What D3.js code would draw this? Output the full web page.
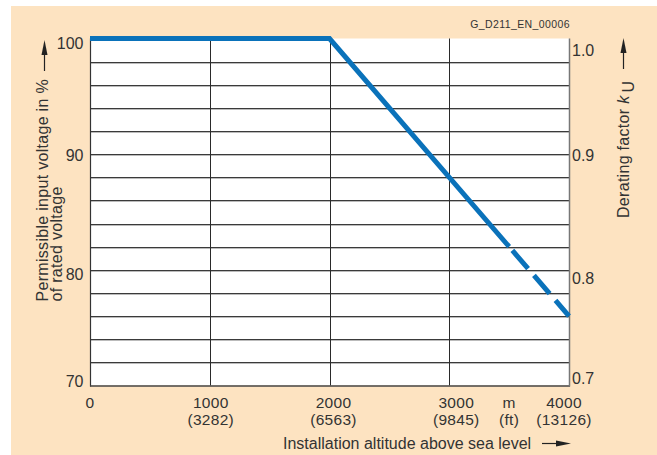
<!DOCTYPE html>
<head>
    <meta charset="utf-8">
    <script src="https://d3js.org/d3.v7.min.js"></script>
    <style>
        body { margin: 0; background: #fff; }
        text { font-family: "Liberation Sans", Arial, sans-serif; fill: #333; }
    </style>
</head>
<body>
    <svg></svg>
    <script>
        // chart values
        var altitudeM = [0, 1000, 2000, 3000, 4000];
        var altitudeFt = ["", "(3282)", "(6563)", "(9845)", "(13126)"];
        var voltageTicks = [100, 90, 80, 70];
        var deratingTicks = [1.0, 0.9, 0.8, 0.7];
        var gridVoltages = [72, 74, 76, 78, 80, 82, 84, 86, 88, 90, 92, 94, 96, 98];
        var gridAltitudes = [1000, 2000, 3000];
        // derating curve, solid part then dashed part
        var solidAltitude = [0, 2000, 3500];
        var solidVoltage = [100, 100, 82];
        var dashedAltitude = [3500, 4000];
        var dashedVoltage = [82, 76];

        var W = 657, H = 455;
        var svg = d3.select("svg").attr("width", W).attr("height", H);

        var x = d3.scaleLinear().domain([0, 4000]).range([90, 569]);
        var y = d3.scaleLinear().domain([70, 100]).range([385.5, 38.5]);

        // peach background
        svg.append("rect")
            .attr("x", 11).attr("y", 6)
            .attr("width", W - 11).attr("height", H - 6)
            .attr("fill", "#fde3c1");

        // plot area
        svg.append("rect")
            .attr("x", x(0)).attr("y", y(100))
            .attr("width", x(4000) - x(0)).attr("height", y(70) - y(100))
            .attr("fill", "#fff");

        // horizontal grid lines (dark line with light shadow)
        var hg = svg.append("g");
        gridVoltages.forEach(function (v) {
            var py = Math.round(y(v)) + 0.5;
            hg.append("line").attr("x1", x(0)).attr("x2", x(4000))
                .attr("y1", py + 1).attr("y2", py + 1)
                .attr("stroke", "#bbb").attr("stroke-width", 1);
            hg.append("line").attr("x1", x(0)).attr("x2", x(4000))
                .attr("y1", py).attr("y2", py)
                .attr("stroke", "#3a3a3a").attr("stroke-width", 1);
        });

        // vertical grid lines
        gridAltitudes.forEach(function (a) {
            var px = Math.round(x(a)) + 0.5;
            svg.append("line").attr("x1", px).attr("x2", px)
                .attr("y1", y(100)).attr("y2", y(70))
                .attr("stroke", "#2a2a2a").attr("stroke-width", 1);
        });

        // frame
        svg.append("line").attr("x1", x(0) + 0.5).attr("x2", x(0) + 0.5)
            .attr("y1", y(100)).attr("y2", y(70) + 1)
            .attr("stroke", "#333").attr("stroke-width", 1.2);
        svg.append("line").attr("x1", x(0)).attr("x2", x(4000) + 1)
            .attr("y1", y(70) + 0.5).attr("y2", y(70) + 0.5)
            .attr("stroke", "#444").attr("stroke-width", 1.5);
        svg.append("line").attr("x1", x(4000) + 0.5).attr("x2", x(4000) + 0.5)
            .attr("y1", y(100)).attr("y2", y(70) + 1)
            .attr("stroke", "#777").attr("stroke-width", 1.5);

        // curve
        var line = d3.line()
            .x(function (d) { return x(d[0]); })
            .y(function (d) { return y(d[1]); });
        svg.append("path")
            .attr("d", line(d3.zip(solidAltitude, solidVoltage)))
            .attr("fill", "none").attr("stroke", "#0a72ba")
            .attr("stroke-width", 5).attr("stroke-linejoin", "miter");
        svg.append("path")
            .attr("d", line(d3.zip(dashedAltitude, dashedVoltage)))
            .attr("fill", "none").attr("stroke", "#0a72ba")
            .attr("stroke-width", 5)
            .attr("stroke-dasharray", "24,9").attr("stroke-dashoffset", 28);

        // left tick labels
        var leftDy = { 100: 10.9, 90: 6.5, 80: 10.4, 70: 1.2 };
        svg.append("g").selectAll("text").data(voltageTicks).enter().append("text")
            .attr("x", 83.5)
            .attr("y", function (d) { return y(d) + leftDy[d]; })
            .attr("text-anchor", "end")
            .style("font-size", "16px")
            .text(function (d) { return d; });

        // right tick labels
        var rightDy = { "1": 17.7, "0.9": 6.5, "0.8": 14.2, "0.7": -1.3 };
        svg.append("g").selectAll("text").data(deratingTicks).enter().append("text")
            .attr("x", 572)
            .attr("y", function (d) { return y(d * 100) + rightDy[String(d)]; })
            .style("font-size", "16px")
            .text(function (d) { return d.toFixed(1); });

        // bottom tick labels, metres over feet
        var bottomDx = [0, 1, 4, 7, -5];
        var xt = svg.append("g");
        function twoLines(px, top, bottom) {
            xt.append("text").attr("x", px).attr("y", 407.5)
                .attr("text-anchor", "middle").style("font-size", "15.5px")
                .style("letter-spacing", "0.3px").text(top);
            xt.append("text").attr("x", px).attr("y", 425)
                .attr("text-anchor", "middle").style("font-size", "15.5px")
                .style("letter-spacing", "0.3px").text(bottom);
        }
        altitudeM.forEach(function (a, i) {
            twoLines(x(a) + bottomDx[i], a, altitudeFt[i]);
        });
        twoLines(x(3500), "m", "(ft)");

        // x title with arrow
        svg.append("text").attr("x", 283).attr("y", 449)
            .style("font-size", "16px")
            .text("Installation altitude above sea level");
        svg.append("line").attr("x1", 542).attr("x2", 558)
            .attr("y1", 443.5).attr("y2", 443.5)
            .attr("stroke", "#222").attr("stroke-width", 1.2);
        svg.append("path").attr("d", "M556,440.5L571,443.5L556,446.5Z").attr("fill", "#222");

        // left title with arrow
        var lt = svg.append("text")
            .attr("transform", "translate(47.5,301.5) rotate(-90)")
            .style("font-size", "16px").style("letter-spacing", "0.3px");
        lt.append("tspan").attr("x", 0).attr("y", 0).text("Permissible input voltage in %");
        lt.append("tspan").attr("x", 0).attr("y", 14.5).text("of rated voltage");
        svg.append("line").attr("x1", 44.5).attr("x2", 44.5)
            .attr("y1", 52).attr("y2", 71)
            .attr("stroke", "#222").attr("stroke-width", 1.2);
        svg.append("path").attr("d", "M41.5,55L44.5,40L47.5,55Z").attr("fill", "#222");

        // right title with arrow
        var rt = svg.append("text")
            .attr("transform", "translate(629,218) rotate(-90)")
            .style("font-size", "16px").style("letter-spacing", "0.3px");
        rt.append("tspan").text("Derating factor ");
        rt.append("tspan").style("font-style", "italic").text("k");
        rt.append("tspan").attr("dx", 3).attr("dy", 5).text("U");
        svg.append("line").attr("x1", 623.5).attr("x2", 623.5)
            .attr("y1", 50).attr("y2", 69)
            .attr("stroke", "#222").attr("stroke-width", 1.2);
        svg.append("path").attr("d", "M620.5,53L623.5,38L626.5,53Z").attr("fill", "#222");

        // drawing id
        svg.append("text").attr("x", 570).attr("y", 27.5)
            .attr("text-anchor", "end").style("font-size", "10.5px")
            .style("letter-spacing", "0.4px")
            .text("G_D211_EN_00006");
    </script>
</body>
